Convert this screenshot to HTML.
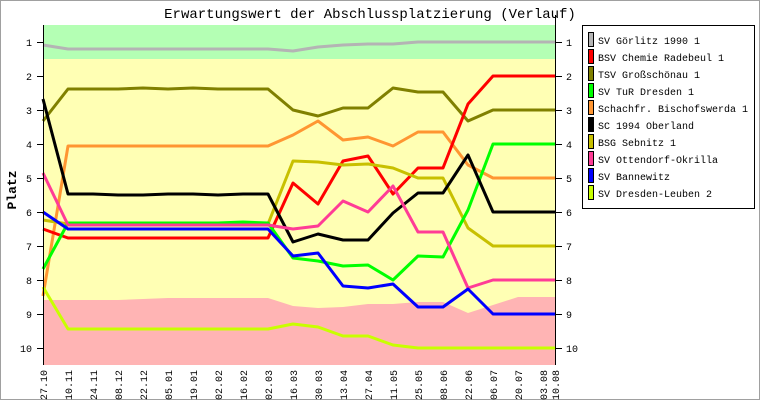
<!DOCTYPE html>
<html><head><meta charset="utf-8"><style>
body{margin:0;background:#fff}
svg{display:block}
text{font-family:"Liberation Mono","DejaVu Sans Mono",monospace}
</style></head><body>
<svg width="760" height="400" xmlns="http://www.w3.org/2000/svg">
<rect x="0.5" y="0.5" width="759" height="399" fill="#fff" stroke="#a0a0a0"/>
<text x="370" y="18" font-size="14" text-anchor="middle" fill="#000">Erwartungswert der Abschlussplatzierung (Verlauf)</text>
<rect x="43" y="25" width="513" height="340" fill="#ffffb4"/>
<rect x="43" y="25" width="513" height="34" fill="#b4ffb4"/>
<polygon fill="#ffb4b4" points="43,300 68,300 93,300 118,300 143,299 168,298 193,298 218,298 243,298 268,298 293,306 318,308 343,307 368,304 393,304 418,302 443,302 468,313 493,305 518,297 543,297 556,297 556,365 43,365"/>
<g fill="none" stroke-width="3" stroke-linejoin="round">
<polyline stroke="#b4b4b4" points="43,45 68,49 93,49 118,49 143,49 168,49 193,49 218,49 243,49 268,49 293,51 318,47 343,45 368,44 393,44 418,42 443,42 468,42 493,42 518,42 543,42 556,42"/>
<polyline stroke="#808000" points="43,121 68,89 93,89 118,89 143,88 168,89 193,88 218,89 243,89 268,89 293,110 318,116 343,108 368,108 393,88 418,92 443,92 468,121 493,110 518,110 543,110 556,110"/>
<polyline stroke="#ff9632" points="43,296 68,146 93,146 118,146 143,146 168,146 193,146 218,146 243,146 268,146 293,135 318,121 343,140 368,137 393,146 418,132 443,132 468,165 493,178 518,178 543,178 556,178"/>
<polyline stroke="#ff0000" points="43,229 68,238 93,238 118,238 143,238 168,238 193,238 218,238 243,238 268,238 293,183 318,204 343,161 368,156 393,194 418,168 443,168 468,104 493,76 518,76 543,76 556,76"/>
<polyline stroke="#c8c000" points="43,220 68,224 93,224 118,224 143,224 168,224 193,224 218,224 243,224 268,224 293,161 318,162 343,165 368,164 393,168 418,178 443,178 468,228 493,246 518,246 543,246 556,246"/>
<polyline stroke="#00ff00" points="43,269 68,223 93,223 118,223 143,223 168,223 193,223 218,223 243,222 268,223 293,258 318,261 343,266 368,265 393,280 418,256 443,257 468,210 493,144 518,144 543,144 556,144"/>
<polyline stroke="#000000" points="43,99 68,194 93,194 118,195 143,195 168,194 193,194 218,195 243,194 268,194 293,242 318,234 343,240 368,240 393,213 418,193 443,193 468,155 493,212 518,212 543,212 556,212"/>
<polyline stroke="#ff3c96" points="43,173 68,225 93,225 118,225 143,225 168,225 193,225 218,225 243,225 268,225 293,229 318,226 343,201 368,212 393,186 418,232 443,232 468,288 493,280 518,280 543,280 556,280"/>
<polyline stroke="#0000ff" points="43,212 68,229 93,229 118,229 143,229 168,229 193,229 218,229 243,229 268,229 293,256 318,253 343,286 368,288 393,284 418,307 443,307 468,289 493,314 518,314 543,314 556,314"/>
<polyline stroke="#c8ff00" points="43,287 68,329 93,329 118,329 143,329 168,329 193,329 218,329 243,329 268,329 293,324 318,327 343,336 368,336 393,345 418,348 443,348 468,348 493,348 518,348 543,348 556,348"/>
</g>
<g stroke="#000" stroke-width="1">
<line x1="43.5" y1="25" x2="43.5" y2="365"/>
<line x1="555.5" y1="15" x2="555.5" y2="365"/>
<path d="M37 42.5h6M37 76.5h6M37 110.5h6M37 144.5h6M37 178.5h6M37 212.5h6M37 246.5h6M37 280.5h6M37 314.5h6M37 348.5h6"/>
<path d="M556 42.5h6M556 76.5h6M556 110.5h6M556 144.5h6M556 178.5h6M556 212.5h6M556 246.5h6M556 280.5h6M556 314.5h6M556 348.5h6"/>
</g>
<g font-size="10" fill="#000" text-anchor="end">
<text x="32" y="46">1</text><text x="32" y="80">2</text><text x="32" y="114">3</text><text x="32" y="148">4</text><text x="32" y="182">5</text><text x="32" y="216">6</text><text x="32" y="250">7</text><text x="32" y="284">8</text><text x="32" y="318">9</text><text x="32" y="352">10</text>
</g>
<g font-size="10" fill="#000">
<text x="566" y="46">1</text><text x="566" y="80">2</text><text x="566" y="114">3</text><text x="566" y="148">4</text><text x="566" y="182">5</text><text x="566" y="216">6</text><text x="566" y="250">7</text><text x="566" y="284">8</text><text x="566" y="318">9</text><text x="566" y="352">10</text>
</g>
<text x="16" y="190" font-size="13" font-weight="bold" text-anchor="middle" transform="rotate(-90 16 190)">Platz</text>
<g font-size="10" fill="#000" text-anchor="end">
<text transform="translate(47,370) rotate(-90)">27.10</text>
<text transform="translate(72,370) rotate(-90)">10.11</text>
<text transform="translate(97,370) rotate(-90)">24.11</text>
<text transform="translate(122,370) rotate(-90)">08.12</text>
<text transform="translate(147,370) rotate(-90)">22.12</text>
<text transform="translate(172,370) rotate(-90)">05.01</text>
<text transform="translate(197,370) rotate(-90)">19.01</text>
<text transform="translate(222,370) rotate(-90)">02.02</text>
<text transform="translate(247,370) rotate(-90)">16.02</text>
<text transform="translate(272,370) rotate(-90)">02.03</text>
<text transform="translate(297,370) rotate(-90)">16.03</text>
<text transform="translate(322,370) rotate(-90)">30.03</text>
<text transform="translate(347,370) rotate(-90)">13.04</text>
<text transform="translate(372,370) rotate(-90)">27.04</text>
<text transform="translate(397,370) rotate(-90)">11.05</text>
<text transform="translate(422,370) rotate(-90)">25.05</text>
<text transform="translate(447,370) rotate(-90)">08.06</text>
<text transform="translate(472,370) rotate(-90)">22.06</text>
<text transform="translate(497,370) rotate(-90)">06.07</text>
<text transform="translate(522,370) rotate(-90)">20.07</text>
<text transform="translate(547,370) rotate(-90)">03.08</text>
<text transform="translate(559,370) rotate(-90)">10.08</text>
</g>
<rect x="582.5" y="25.5" width="172" height="183" fill="#fff" stroke="#000"/>
<g stroke="#000" stroke-width="1">
<rect x="588.5" y="32.5" width="5" height="14" fill="#b4b4b4"/>
<rect x="588.5" y="49.5" width="5" height="14" fill="#ff0000"/>
<rect x="588.5" y="66.5" width="5" height="14" fill="#808000"/>
<rect x="588.5" y="83.5" width="5" height="14" fill="#00ff00"/>
<rect x="588.5" y="100.5" width="5" height="14" fill="#ff9632"/>
<rect x="588.5" y="117.5" width="5" height="14" fill="#000000"/>
<rect x="588.5" y="134.5" width="5" height="14" fill="#c8c000"/>
<rect x="588.5" y="151.5" width="5" height="14" fill="#ff3c96"/>
<rect x="588.5" y="168.5" width="5" height="14" fill="#0000ff"/>
<rect x="588.5" y="185.5" width="5" height="14" fill="#c8ff00"/>
</g>
<g font-size="10" fill="#000">
<text x="598" y="44">SV Görlitz 1990 1</text>
<text x="598" y="61">BSV Chemie Radebeul 1</text>
<text x="598" y="78">TSV Großschönau 1</text>
<text x="598" y="95">SV TuR Dresden 1</text>
<text x="598" y="112">Schachfr. Bischofswerda 1</text>
<text x="598" y="129">SC 1994 Oberland</text>
<text x="598" y="146">BSG Sebnitz 1</text>
<text x="598" y="163">SV Ottendorf-Okrilla</text>
<text x="598" y="180">SV Bannewitz</text>
<text x="598" y="197">SV Dresden-Leuben 2</text>
</g>
</svg>
</body></html>
